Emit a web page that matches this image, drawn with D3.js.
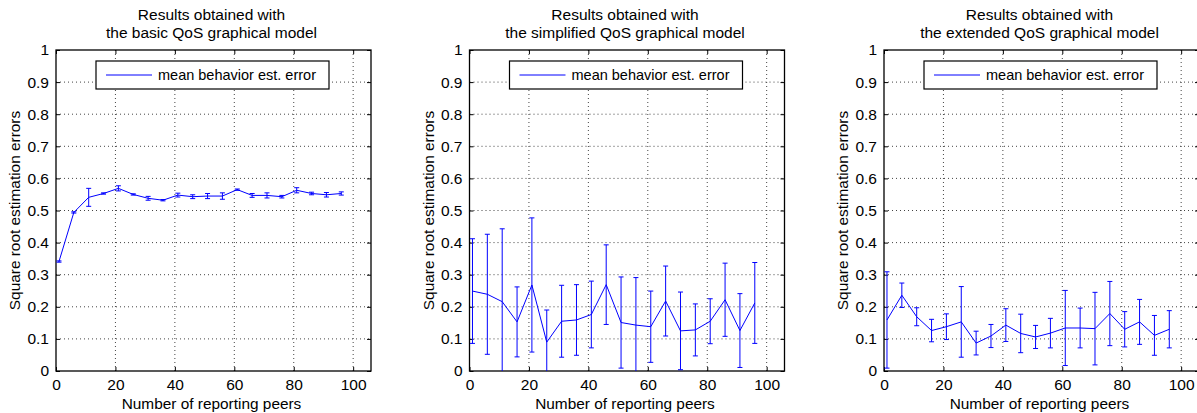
<!DOCTYPE html>
<html>
<head>
<meta charset="utf-8">
<script src="https://cdn.jsdelivr.net/npm/d3@7"></script>
<style>
  body { margin: 0; background: #fff; }
  svg { display: block; font-family: "Liberation Sans", Arial, sans-serif; }
</style>
</head>
<body>
<svg id="chart"></svg>
<script>
// number of reporting peers (shared by all three runs)
const peers = [1, 6, 11, 16, 21, 26, 31, 36, 41, 46, 51, 56, 61, 66, 71, 76, 81, 86, 91, 96];

const basicMean = [0.341, 0.494, 0.541, 0.553, 0.569, 0.550, 0.538, 0.532, 0.548, 0.543,
                   0.545, 0.545, 0.565, 0.547, 0.547, 0.543, 0.563, 0.553, 0.549, 0.553];
const basicErr  = [0.002, 0.002, 0.028, 0.002, 0.008, 0.002, 0.006, 0.002, 0.006, 0.006,
                   0.008, 0.010, 0.002, 0.006, 0.008, 0.004, 0.008, 0.004, 0.007, 0.005];

const simpleMean = [0.249, 0.239, 0.216, 0.153, 0.268, 0.090, 0.155, 0.159, 0.176, 0.269,
                    0.151, 0.143, 0.138, 0.218, 0.125, 0.128, 0.155, 0.222, 0.126, 0.212];
const simpleErr  = [0.163, 0.187, 0.227, 0.109, 0.209, 0.100, 0.112, 0.110, 0.104, 0.124,
                    0.142, 0.148, 0.111, 0.109, 0.121, 0.081, 0.070, 0.114, 0.115, 0.126];

const extMean = [0.159, 0.236, 0.169, 0.126, 0.138, 0.153, 0.087, 0.109, 0.143, 0.117,
                 0.106, 0.118, 0.134, 0.134, 0.132, 0.179, 0.130, 0.153, 0.111, 0.130];
const extErr  = [0.150, 0.038, 0.028, 0.035, 0.040, 0.110, 0.037, 0.036, 0.051, 0.060,
                 0.036, 0.046, 0.117, 0.062, 0.113, 0.100, 0.055, 0.070, 0.062, 0.058];

const titles = [
  ["Results obtained with", "the basic QoS graphical model"],
  ["Results obtained with", "the simplified QoS graphical model"],
  ["Results obtained with", "the extended QoS graphical model"]
];
const xTicks = [0, 20, 40, 60, 80, 100];
const yTicks = [0, 0.1, 0.2, 0.3, 0.4, 0.5, 0.6, 0.7, 0.8, 0.9, 1];

const width = 1197, height = 413;
const plotTop = 50, plotBottom = 371, plotW = 315;
const lefts = [56, 469.5, 884];
const blue = "#0000ff";

const svg = d3.select("#chart").attr("width", width).attr("height", height);

const panels = [
  { mean: basicMean, err: basicErr },
  { mean: simpleMean, err: simpleErr },
  { mean: extMean, err: extErr }
];

panels.forEach((p, k) => {
  const left = lefts[k];
  const x = d3.scaleLinear().domain([0, 106]).range([left, left + plotW]);
  const y = d3.scaleLinear().domain([0, 1]).range([plotBottom, plotTop]);
  const g = svg.append("g");

  const clipId = `clip${k}`;
  svg.append("clipPath").attr("id", clipId)
    .append("rect").attr("x", left).attr("y", plotTop).attr("width", plotW).attr("height", plotBottom - plotTop);

  // dotted grid
  g.selectAll(".gx").data(xTicks.filter(t => t > 0)).enter().append("line")
    .attr("x1", d => x(d)).attr("x2", d => x(d)).attr("y1", plotTop).attr("y2", plotBottom)
    .attr("stroke", "#444").attr("stroke-width", 1).attr("stroke-dasharray", "1,3");
  g.selectAll(".gy").data(yTicks.filter(t => t > 0 && t < 1)).enter().append("line")
    .attr("x1", left).attr("x2", left + plotW).attr("y1", d => y(d)).attr("y2", d => y(d))
    .attr("stroke", "#444").attr("stroke-width", 1).attr("stroke-dasharray", "1,3");

  // axes with inward ticks on all sides
  const axB = g.append("g").attr("transform", `translate(0,${plotBottom})`)
    .call(d3.axisBottom(x).tickValues(xTicks).tickSizeInner(-4).tickSizeOuter(0).tickPadding(8));
  const axT = g.append("g").attr("transform", `translate(0,${plotTop})`)
    .call(d3.axisTop(x).tickValues(xTicks).tickSizeInner(-4).tickSizeOuter(0).tickFormat(""));
  const axL = g.append("g").attr("transform", `translate(${left},0)`)
    .call(d3.axisLeft(y).tickValues(yTicks).tickSizeInner(-4).tickSizeOuter(0).tickPadding(7)
      .tickFormat(d => d === 0 || d === 1 ? String(d) : d3.format(".1f")(d)));
  const axR = g.append("g").attr("transform", `translate(${left + plotW},0)`)
    .call(d3.axisRight(y).tickValues(yTicks).tickSizeInner(-4).tickSizeOuter(0).tickFormat(""));
  [axB, axT, axL, axR].forEach(a => {
    a.select(".domain").remove();
    a.selectAll("text").attr("font-size", 15.5).attr("fill", "#000")
      .attr("font-family", "Liberation Sans, Arial, sans-serif");
  });
  axB.selectAll("text").attr("dy", "0.71em");

  g.append("rect").attr("x", left).attr("y", plotTop).attr("width", plotW).attr("height", plotBottom - plotTop)
    .attr("fill", "none").attr("stroke", "#000").attr("stroke-width", 1.3);

  // data
  const data = peers.map((v, i) => ({ x: v, m: p.mean[i], e: p.err[i] }));
  const dg = g.append("g").attr("clip-path", `url(#${clipId})`);
  dg.append("path").datum(data)
    .attr("d", d3.line().x(d => x(d.x)).y(d => y(d.m)))
    .attr("fill", "none").attr("stroke", blue).attr("stroke-width", 1);
  const eb = dg.selectAll(".eb").data(data).enter().append("g");
  eb.append("line").attr("x1", d => x(d.x)).attr("x2", d => x(d.x))
    .attr("y1", d => y(d.m - d.e)).attr("y2", d => y(d.m + d.e))
    .attr("stroke", blue).attr("stroke-width", 1);
  [-1, 1].forEach(s => {
    eb.append("line").attr("x1", d => x(d.x) - 2.5).attr("x2", d => x(d.x) + 2.5)
      .attr("y1", d => y(d.m + s * d.e)).attr("y2", d => y(d.m + s * d.e))
      .attr("stroke", blue).attr("stroke-width", 1);
  });

  // legend
  const cx = left + plotW / 2 - 1;
  const lw = 233, lh = 28;
  const lg = g.append("g").attr("transform", `translate(${cx - lw / 2},61)`);
  lg.append("rect").attr("width", lw).attr("height", lh).attr("fill", "#fff")
    .attr("stroke", "#000").attr("stroke-width", 1.2);
  lg.append("line").attr("x1", 10).attr("x2", 56).attr("y1", lh / 2).attr("y2", lh / 2)
    .attr("stroke", blue).attr("stroke-width", 1);
  lg.append("text").attr("x", 62).attr("y", lh / 2).attr("dy", "0.35em")
    .attr("font-size", 14.5).text("mean behavior est. error");

  // titles and labels
  titles[k].forEach((t, i) => {
    g.append("text").attr("x", left + plotW / 2 - 2).attr("y", 20 + i * 18)
      .attr("text-anchor", "middle").attr("font-size", 15.5).text(t);
  });
  g.append("text").attr("x", left + plotW / 2 - 2).attr("y", 408.5)
    .attr("text-anchor", "middle").attr("font-size", 15.4).text("Number of reporting peers");
  g.append("text").attr("transform", `translate(${left - 36},${(plotTop + plotBottom) / 2}) rotate(-90)`)
    .attr("text-anchor", "middle").attr("font-size", 15.4).text("Square root estimation errors");
});
</script>
</body>
</html>
